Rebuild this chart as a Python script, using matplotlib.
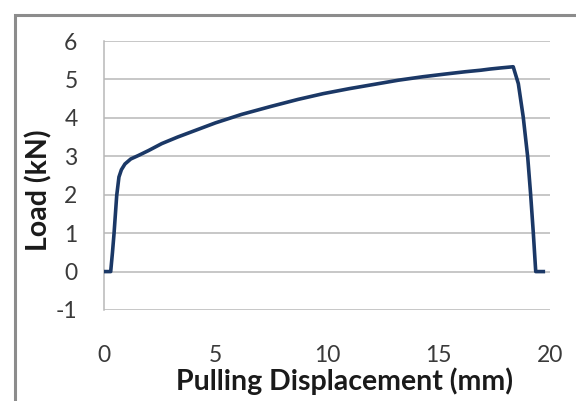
import matplotlib
matplotlib.use("Agg")
import matplotlib.pyplot as plt
from matplotlib.patches import Rectangle

plt.rcParams["axes.unicode_minus"] = False

# Data
disp = [0.0, 0.3, 0.38, 0.45, 0.57, 0.67, 0.78, 0.94, 1.2, 1.54, 2.0, 2.59, 3.3, 4.08,
        5.0, 6.17, 7.5, 8.7, 9.83, 11.0, 12.2, 13.2, 14.3, 15.3, 16.2, 16.9, 17.3, 17.8,
        18.35, 18.58, 18.8, 19.0, 19.13, 19.25, 19.36, 19.7]
load = [0.0, 0.0, 0.5, 0.99, 1.98, 2.46, 2.65, 2.80, 2.93, 3.02, 3.15, 3.33, 3.50, 3.67,
        3.87, 4.09, 4.30, 4.48, 4.63, 4.76, 4.88, 4.98, 5.07, 5.14, 5.20, 5.24, 5.27, 5.30,
        5.33, 4.89, 4.02, 2.98, 2.02, 1.02, 0.0, 0.0]

xticks = [0, 5, 10, 15, 20]
yticks = [-1, 0, 1, 2, 3, 4, 5, 6]

W, H = 576, 401
fig = plt.figure(figsize=(W / 100, H / 100), dpi=100)
fig.patch.set_facecolor("white")

# outer chart border (gray)
fig.patches.append(Rectangle((15 / W, -0.1), 1.2, 1 - 15 / H + 0.1, transform=fig.transFigure,
                             fill=False, edgecolor="#8c8c8c", linewidth=2.2, zorder=0))

ax = fig.add_axes([104 / W, 1 - 310 / H, (550 - 104) / W, (310 - 41) / H])
ax.plot(disp, load, color="#1b3866", linewidth=2.6, solid_joinstyle="round", zorder=3)

ax.set_xlim(0, 20)
ax.set_ylim(-1, 6)
ax.set_xticks(xticks)
ax.set_yticks(yticks)
ax.yaxis.grid(True, color="#b8b8b8", linewidth=1.1)
ax.set_axisbelow(True)
for s in ["top", "right", "bottom"]:
    ax.spines[s].set_visible(False)
ax.spines["left"].set_color("#b8b8b8")
ax.spines["left"].set_linewidth(1.1)

fam = ["Lato", "DejaVu Sans"]
ax.tick_params(axis="both", length=0, labelsize=16.5, colors="#3a3a3a")
ax.tick_params(axis="y", pad=19)
ax.tick_params(axis="x", pad=25)
for lab in ax.get_xticklabels() + ax.get_yticklabels():
    lab.set_family(fam)

ax.set_xlabel("Pulling Displacement (mm)", fontsize=20.5, fontweight="bold", family=fam, color="#1a1a1a")
ax.set_ylabel("Load (kN)", fontsize=20.5, fontweight="bold", family=fam, color="#1a1a1a")
ax.xaxis.set_label_coords((344 - 104) / (550 - 104), -(381 - 310) / (310 - 41))
ax.yaxis.set_label_coords(-(104 - 39) / (550 - 104), (310 - 190) / (310 - 41))
ax.xaxis.label.set_verticalalignment("center")
ax.yaxis.label.set_verticalalignment("center")

fig.savefig("out.png", dpi=100)
